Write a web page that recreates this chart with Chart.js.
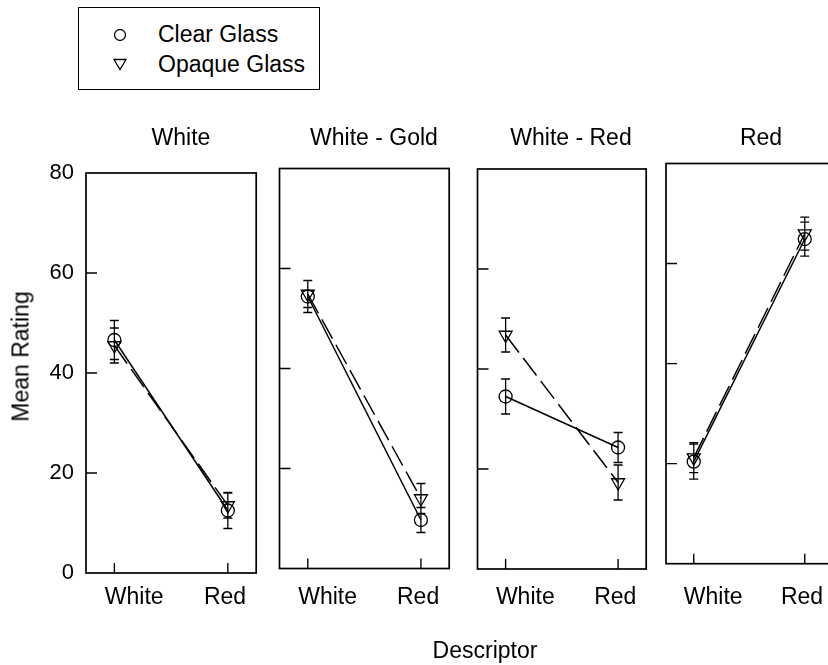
<!DOCTYPE html>
<html>
<head>
<meta charset="utf-8">
<script src="https://cdn.jsdelivr.net/npm/chart.js@4/dist/chart.umd.min.js"></script>
<style>
  html, body { margin: 0; padding: 0; background: #fff; overflow: hidden; }
  #wrap { position: relative; width: 828px; height: 665px; overflow: hidden;
          font-family: "Liberation Sans", Arial, sans-serif; color: #000; }
  #wrap canvas { position: absolute; }
  .txt { position: absolute; font-size: 23px; line-height: 23px; white-space: nowrap; }
  .ctr { width: 300px; text-align: center; }
  #legend { position: absolute; left: 78px; top: 7px; width: 242px; height: 83px;
            border: 1px solid #000; box-sizing: border-box; }
  #legend svg { position: absolute; }
</style>
</head>
<body>
<div id="wrap">
  <div id="legend"></div>
</div>
<script>
// Panel headings (glass colour condition) and the two descriptor categories
const panelTitles = ['White', 'White - Gold', 'White - Red', 'Red'];
const descriptors = ['White', 'Red'];
const seriesNames = ['Clear Glass', 'Opaque Glass'];

// Mean ratings per panel, in descriptor order [White, Red]
const clearMeans  = [[46.6, 12.5], [54.4,  9.7], [34.5, 24.3], [20.4, 64.9]];
const opaqueMeans = [[45.5, 13.5], [54.9, 14.0], [46.8, 17.3], [21.2, 66.0]];
// Error bar half-lengths, same order
const clearErr  = [[3.9, 3.6], [3.2, 2.5], [3.5, 3.0], [3.5, 3.4]];
const opaqueErr = [[3.5, 2.5], [2.7, 3.0], [3.4, 3.5], [3.0, 3.3]];

// Rating axis
const yTicks = [0, 20, 40, 60, 80];
const innerYTicks = [20, 40, 60];

const FONT = '"Liberation Sans", Arial, sans-serif';
const FS = 23;
const FS_NUM = 22;

// Plot frame of each panel on the page (px)
const frames = [
  { l: 86,    r: 257,   t: 173,   b: 573   },
  { l: 279.5, r: 450,   t: 168.5, b: 568.5 },
  { l: 477.5, r: 646.5, t: 169,   b: 569   },
  { l: 666,   r: 837,   t: 163.5, b: 563.7 }
];
const titleCenters = [181, 374, 571, 761];
// descriptor label anchors on the category axis (labels sit right of White tick)
const labelPos = [0.175, 0.975];
// all descriptor labels share one text row
const LABEL_ROW = 584;

const CANVAS_TOP = 100, CANVAS_H = 565, X_AXIS_H = 60, Y_AXIS_W = 80;

const wrap = document.getElementById('wrap');

function addText(str, left, top, cls, extra) {
  const d = document.createElement('div');
  d.className = 'txt ' + (cls || '');
  d.textContent = str;
  d.style.left = left + 'px';
  d.style.top = top + 'px';
  if (extra) Object.assign(d.style, extra);
  wrap.appendChild(d);
  return d;
}

// Frame, inward tick marks and error bars
const frameDecor = {
  id: 'frameDecor',
  afterDatasetsDraw(chart) {
    const { ctx, chartArea: a, scales: { x, y } } = chart;
    ctx.save();
    ctx.strokeStyle = '#000';
    ctx.lineWidth = 1.7;
    ctx.strokeRect(a.left, a.top, a.right - a.left, a.bottom - a.top);

    ctx.lineWidth = 1.4;
    ctx.beginPath();
    innerYTicks.forEach(v => {
      const py = y.getPixelForValue(v);
      ctx.moveTo(a.left, py); ctx.lineTo(a.left + 11, py);
    });
    descriptors.forEach((_, i) => {
      const px = x.getPixelForValue(i);
      ctx.moveTo(px, a.bottom); ctx.lineTo(px, a.bottom - 10);
    });
    ctx.stroke();

    ctx.lineWidth = 1.3;
    ctx.beginPath();
    chart.data.datasets.forEach(ds => {
      ds.data.forEach((pt, j) => {
        const e = ds.errors[j];
        const px = x.getPixelForValue(pt.x);
        const pTop = y.getPixelForValue(pt.y + e);
        const pBot = y.getPixelForValue(pt.y - e);
        ctx.moveTo(px, pTop); ctx.lineTo(px, pBot);
        ctx.moveTo(px - 4.5, pTop); ctx.lineTo(px + 4.5, pTop);
        ctx.moveTo(px - 4.5, pBot); ctx.lineTo(px + 4.5, pBot);
      });
    });
    ctx.stroke();
    ctx.restore();
  }
};

frames.forEach((f, i) => {
  const first = i === 0;
  const cLeft = first ? 0 : Math.floor(f.l) - 12;
  const cWidth = Math.ceil(f.r) + 8 - cLeft;
  const canvas = document.createElement('canvas');
  canvas.width = cWidth;
  canvas.height = CANVAS_H;
  canvas.style.left = cLeft + 'px';
  canvas.style.top = CANVAS_TOP + 'px';
  canvas.style.width = cWidth + 'px';
  canvas.style.height = CANVAS_H + 'px';
  wrap.appendChild(canvas);

  const yW = first ? Y_AXIS_W : 0;
  const pad = {
    left: f.l - cLeft - yW,
    right: cWidth - (f.r - cLeft),
    top: f.t - CANVAS_TOP,
    bottom: CANVAS_H - (f.b - CANVAS_TOP) - X_AXIS_H
  };

  const toPts = arr => arr.map((v, j) => ({ x: j, y: v }));

  new Chart(canvas, {
    type: 'line',
    data: {
      datasets: [
        {
          label: seriesNames[0],
          data: toPts(clearMeans[i]),
          errors: clearErr[i],
          borderColor: '#000',
          borderWidth: 1.5,
          pointStyle: 'circle',
          pointRadius: 6.5,
          pointBorderWidth: 1.3,
          pointBorderColor: '#000',
          pointBackgroundColor: 'rgba(0,0,0,0)',
          fill: false,
          tension: 0
        },
        {
          label: seriesNames[1],
          data: toPts(opaqueMeans[i]),
          errors: opaqueErr[i],
          borderColor: '#000',
          borderWidth: 1.5,
          borderDash: [22, 7],
          pointStyle: 'triangle',
          pointRotation: 180,
          pointRadius: 7.5,
          pointBorderWidth: 1.3,
          pointBorderColor: '#000',
          pointBackgroundColor: 'rgba(0,0,0,0)',
          fill: false,
          tension: 0
        }
      ]
    },
    options: {
      responsive: false,
      animation: false,
      events: [],
      devicePixelRatio: 1,
      layout: { padding: pad },
      plugins: { legend: { display: false }, tooltip: { enabled: false }, title: { display: false } },
      scales: {
        x: {
          type: 'linear',
          min: -0.25,
          max: 1.25,
          bounds: 'data',
          afterBuildTicks: s => { s.ticks = labelPos.map(v => ({ value: v })); },
          afterFit: s => { s.height = X_AXIS_H; },
          grid: { display: false, drawTicks: false },
          border: { display: false },
          ticks: {
            autoSkip: false, maxRotation: 0, padding: LABEL_ROW - f.b, color: '#000',
            font: { family: FONT, size: FS },
            callback: (v, idx) => descriptors[idx]
          }
        },
        y: {
          display: first,
          min: 0,
          max: 80,
          afterBuildTicks: s => { s.ticks = yTicks.map(v => ({ value: v })); },
          afterFit: s => { s.width = yW; },
          grid: { display: false, drawTicks: false },
          border: { display: false },
          ticks: { padding: 12, color: '#000', font: { family: FONT, size: FS_NUM } }
        }
      }
    },
    plugins: [frameDecor]
  });

  addText(panelTitles[i], titleCenters[i] - 150, 125.5, 'ctr');
});

// Axis titles
addText('Descriptor', 485 - 150, 638.5, 'ctr');
addText('Mean Rating', 21 - 100, 344.5, 'ctr', { width: '200px', transform: 'rotate(-90deg)' });

// Legend
const legend = document.getElementById('legend');
const markerSvg = [
  '<svg width="20" height="20" viewBox="0 0 20 20"><circle cx="10" cy="10" r="5.5" fill="none" stroke="#000" stroke-width="1.3"/></svg>',
  '<svg width="20" height="20" viewBox="0 0 20 20"><polygon points="4,5.5 16,5.5 10,15.5" fill="none" stroke="#000" stroke-width="1.3"/></svg>'
];
const legendRows = [34.5, 64];
seriesNames.forEach((name, k) => {
  const holder = document.createElement('div');
  holder.innerHTML = markerSvg[k];
  const svg = holder.firstChild;
  svg.style.left = (120 - 10 - 79) + 'px';
  svg.style.top = (legendRows[k] - 10 - 8) + 'px';
  legend.appendChild(svg);
  const t = document.createElement('div');
  t.className = 'txt';
  t.textContent = name;
  t.style.left = (158 - 79) + 'px';
  t.style.top = (legendRows[k] - 11.2 - 8) + 'px';
  legend.appendChild(t);
});
</script>
</body>
</html>
